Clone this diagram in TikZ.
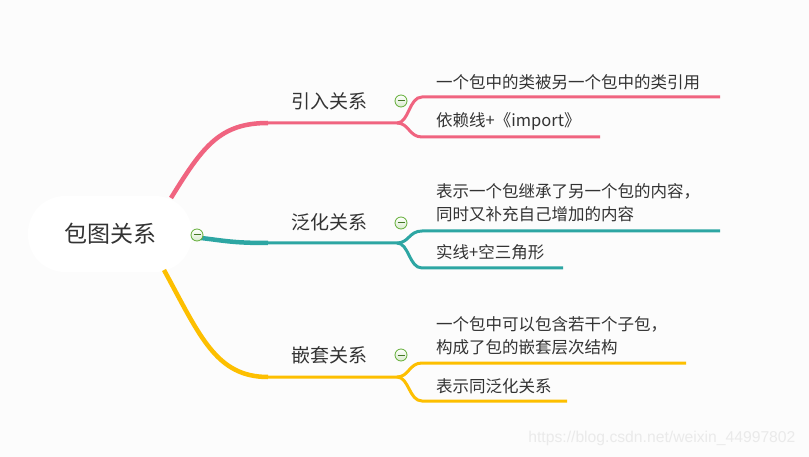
\documentclass[tikz,border=0pt]{standalone}
\usepackage{fontspec}
\setmainfont{Noto Sans CJK SC}
\newfontfamily\wmfont{Liberation Sans}
\definecolor{bg}{HTML}{FCFCFC}
\definecolor{txt}{HTML}{333333}
\definecolor{pinkline}{HTML}{F06480}
\definecolor{tealline}{HTML}{2DA6A3}
\definecolor{goldline}{HTML}{FDBF00}
\definecolor{foldgreen}{HTML}{62AD36}
\definecolor{wmgray}{HTML}{EAEAEA}
\tikzset{
  rootbox/.style={rectangle, rounded corners=37pt, fill=white, minimum width=164pt,
    minimum height=76pt, text=txt, font=\fontsize{23}{26}\selectfont},
  rel/.style={inner sep=0pt, text=txt, font=\fontsize{19}{22}\selectfont},
  desc/.style={inner sep=0pt, anchor=west, align=left, text=txt,
    font=\fontsize{16.5}{23}\selectfont},
  branch/.style={line width=4.5pt},
  leaf/.style={line width=3pt},
  fold/.style={circle, draw=foldgreen, line width=0.8pt, top color=white,
    bottom color=foldgreen!25, minimum size=12pt, inner sep=0pt,
    path picture={\draw[foldgreen!70!black, line width=1pt]
      ([xshift=-3.5pt]path picture bounding box.center) --
      ([xshift=3.5pt]path picture bounding box.center);}}
}
\begin{document}
\begin{tikzpicture}[x=1pt,y=-1pt]
  \fill[bg] (0,0) rectangle (809,457);

  \node (root) [rootbox] at (110,234) {包图关系};

  \node (r1) [rel] at (329,101) {引入关系};
  \node (r2) [rel] at (329,222) {泛化关系};
  \node (r3) [rel] at (329,355) {嵌套关系};

  % where branches leave the root
  \coordinate (a1) at (171,198);
  \coordinate (a2) at (192,237);
  \coordinate (a3) at (164,270);
  \coordinate (k1) at (268,123);
  \coordinate (k2) at (268,243);
  \coordinate (k3) at (268,377);
  \coordinate (s1) at (397,123);
  \coordinate (s2) at (397,243);
  \coordinate (s3) at (397,377);
  % leaf underlines
  \coordinate (u1) at (422,97);  \coordinate (ue1) at (720,97);
  \coordinate (l1) at (422,137); \coordinate (le1) at (600,137);
  \coordinate (u2) at (422,231); \coordinate (ue2) at (720,231);
  \coordinate (l2) at (422,268); \coordinate (le2) at (563,268);
  \coordinate (u3) at (422,363); \coordinate (ue3) at (686,363);
  \coordinate (l3) at (422,401); \coordinate (le3) at (567,401);

  \draw[branch,pinkline] (a1) .. controls +(32,-52) and +(-48,0) .. (k1);
  \draw[branch,tealline] (a2) .. controls +(30,3) and +(-40,0) .. (k2);
  \draw[branch,goldline] (a3) .. controls +(36,66) and +(-52,0) .. (k3);

  \foreach \i/\c in {1/pinkline,2/tealline,3/goldline}{
    \draw[leaf,\c] (k\i) -- (s\i) .. controls +(12,0) and +(-13,0) .. (u\i) -- (ue\i);
    \draw[leaf,\c] (s\i) .. controls +(12,0) and +(-13,0) .. (l\i) -- (le\i);
  }

  \node (d11) [desc] at (436,82) {一个包中的类被另一个包中的类引用};
  \node (d12) [desc] at (436,121) {依赖线+《import》};
  \node (d21) [desc] at (436,203) {表示一个包继承了另一个包的内容，\\同时又补充自己增加的内容};
  \node (d22) [desc] at (436,252) {实线+空三角形};
  \node (d31) [desc] at (436,336) {一个包中可以包含若干个子包，\\构成了包的嵌套层次结构};
  \node (d32) [desc] at (436,386) {表示同泛化关系};

  \node (f0) [fold] at (197,235) {};
  \node (f1) [fold] at (401,101) {};
  \node (f2) [fold] at (401,223) {};
  \node (f3) [fold] at (401,355) {};

  \node (wm) [anchor=east, text=wmgray, font=\wmfont\fontsize{15.7}{18}\selectfont]
    at (799,438) {https://blog.csdn.net/weixin\_44997802};
\end{tikzpicture}
\end{document}
